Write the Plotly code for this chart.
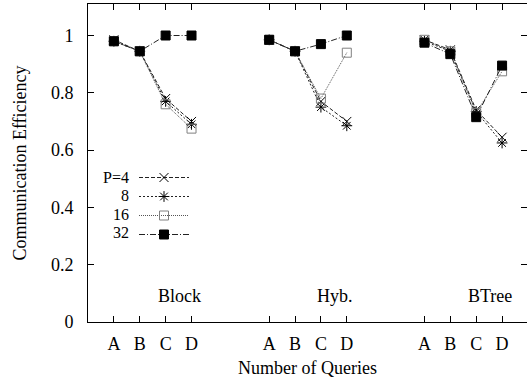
import plotly.graph_objects as go

groups = ["Block", "Hyb.", "BTree"]
group_start = [1, 7, 13]
queries = ["A", "B", "C", "D"]
procs = ["P=4", "8", "16", "32"]

# efficiency per group (Block, Hyb., BTree), per query A..D
eff_p4 = [[0.985, 0.945, 0.78, 0.70], [0.985, 0.945, 0.77, 0.70], [0.985, 0.95, 0.74, 0.645]]
eff_p8 = [[0.98, 0.945, 0.77, 0.69], [0.985, 0.945, 0.75, 0.685], [0.98, 0.945, 0.735, 0.625]]
eff_p16 = [[0.98, 0.945, 0.76, 0.675], [0.985, 0.945, 0.78, 0.94], [0.985, 0.945, 0.73, 0.875]]
eff_p32 = [[0.98, 0.945, 1.0, 1.0], [0.985, 0.945, 0.97, 1.0], [0.975, 0.935, 0.715, 0.895]]

series = [eff_p4, eff_p8, eff_p16, eff_p32]
styles = [
    dict(symbol="x-thin-open", size=9, mcolor="#000", lcolor="#222", dash="4px,2px"),
    dict(symbol="asterisk-open", size=9, mcolor="#000", lcolor="#222", dash="2px,2px"),
    dict(symbol="square-open", size=9, mcolor="#808080", lcolor="#555", dash="1px,1px"),
    dict(symbol="square", size=9, mcolor="#000", lcolor="#222", dash="6px,2px,1px,2px"),
]

def flatten(vals):
    xs, ys = [], []
    for s, row in zip(group_start, vals):
        for i, v in enumerate(row):
            xs.append(s + i)
            ys.append(v)
        xs.append(None)
        ys.append(None)
    return xs, ys

fig = go.Figure()
for name, vals, st in zip(procs, series, styles):
    xs, ys = flatten(vals)
    fig.add_trace(go.Scatter(
        x=xs, y=ys, mode="lines+markers", name="",
        connectgaps=False,
        line=dict(color=st["lcolor"], width=1, dash=st["dash"]),
        marker=dict(symbol=st["symbol"], size=st["size"], color=st["mcolor"],
                    line=dict(color=st["mcolor"], width=1)),
    ))

font = dict(family="Liberation Serif, Times New Roman, serif", size=18, color="#000")
legend_font = dict(family=font["family"], size=16, color="#000")

tickvals = [s + i for s in group_start for i in range(len(queries))]
ticktext = queries * len(group_start)

annotations = []
for g, s in zip(groups, group_start):
    annotations.append(dict(x=s + 2.55, y=0.09, xref="x", yref="y", text=g,
                            showarrow=False, font=font))
legend_rows = [177, 195, 214, 233]
for name, py in zip(procs, legend_rows):
    annotations.append(dict(x=(130 - 88) / 439, y=(322 - py) / 318, xref="paper", yref="paper",
                            text=name, showarrow=False, xanchor="right", yanchor="middle",
                            font=legend_font, borderpad=0))

fig.update_layout(
    width=527, height=382,
    margin=dict(l=88, r=0, t=4, b=60),
    paper_bgcolor="white", plot_bgcolor="white",
    font=font,
    showlegend=True,
    legend=dict(x=(134 - 88) / 439, xanchor="left", y=(322 - 163) / 318, yanchor="top",
                bgcolor="rgba(0,0,0,0)", borderwidth=0, itemwidth=50,
                font=dict(family=font["family"], size=12)),
    annotations=annotations,
    xaxis=dict(range=[0, 439 / 25.88], tickvals=tickvals, ticktext=ticktext,
               ticks="inside", ticklen=6, tickcolor="#000", showline=True, linecolor="#000",
               linewidth=1, mirror="ticks", showgrid=False, zeroline=False,
               ticklabelstandoff=5,
               title=dict(text="Number of Queries", font=font, standoff=8)),
    yaxis=dict(range=[0, 1.11], tickvals=[0, 0.2, 0.4, 0.6, 0.8, 1],
               ticktext=["0", "0.2", "0.4", "0.6", "0.8", "1"],
               ticks="inside", ticklen=6, tickcolor="#000", showline=True, linecolor="#000",
               linewidth=1, mirror="ticks", showgrid=False, zeroline=False,
               ticklabelstandoff=10,
               title=dict(text="Communication Efficiency", font=font, standoff=19)),
)

fig.write_html("out.html")
